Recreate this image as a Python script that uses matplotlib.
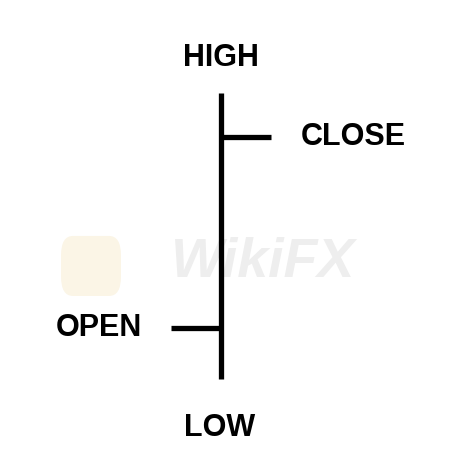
import matplotlib
matplotlib.use("Agg")
import matplotlib.pyplot as plt
from matplotlib.patches import FancyBboxPatch

# OHLC values (arbitrary price units)
labels = ["OPEN", "HIGH", "LOW", "CLOSE"]
open_v = 1.78
high_v = 10.0
low_v = 0.0
close_v = 8.46

fig = plt.figure(figsize=(4.69, 4.69), dpi=100)
ax = fig.add_axes([0, 0, 1, 1])
ax.set_xlim(-221, 248)
ax.set_ylim(-3.15, 13.25)
ax.axis("off")

lw = 3.8
tick = 50
ax.vlines(0, low_v, high_v, color="black", linewidth=lw)
ax.hlines(close_v, 0, tick, color="black", linewidth=lw)
ax.hlines(open_v, -tick, 0, color="black", linewidth=lw)

font = dict(family="Liberation Sans", fontweight="bold", fontsize=22, color="black")
ax.text(0, high_v + 1.22, "HIGH", ha="center", va="center", **font)
ax.text(tick + 30, close_v, "CLOSE", ha="left", va="center", **font)
ax.text(-tick - 29, open_v, "OPEN", ha="right", va="center", **font)
ax.text(-1, low_v - 1.7, "LOW", ha="center", va="center", **font)

# faint watermark
ax.text(42, 4.05, "WikiFX", ha="center", va="center", family="Liberation Sans",
        fontweight="bold", fontstyle="italic", fontsize=40, color="#eeeeee", zorder=0)
ax.add_patch(FancyBboxPatch((-160, 2.9), 60, 2.1, boxstyle="round,pad=0,rounding_size=12",
                            mutation_aspect=0.057, color="#fbf5e6", zorder=0, linewidth=0))

fig.savefig("out.png", dpi=100)
